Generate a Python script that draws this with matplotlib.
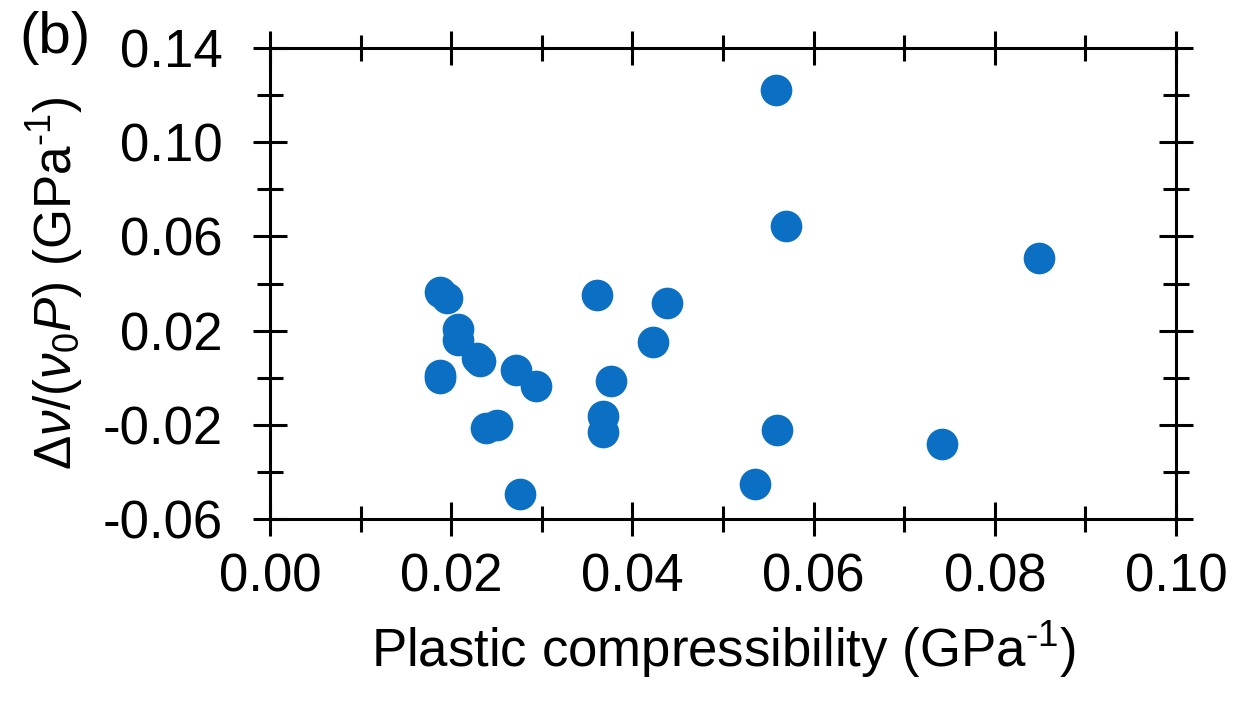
import matplotlib
matplotlib.use("Agg")
import matplotlib.pyplot as plt
from matplotlib.ticker import MultipleLocator

# plastic compressibility (GPa^-1) vs. delta nu / (nu0 P) (GPa^-1)
comp = [0.0558, 0.0569, 0.0849, 0.0188, 0.0195, 0.0361, 0.0438, 0.0207,
        0.0207, 0.0423, 0.0228, 0.0232, 0.0272, 0.0294, 0.0376, 0.0188,
        0.0188, 0.0368, 0.0368, 0.0238, 0.0250, 0.0276, 0.0535, 0.0560,
        0.0742]
dnu = [0.1222, 0.0644, 0.0508, 0.0366, 0.0340, 0.0351, 0.0317, 0.0207,
       0.0158, 0.0150, 0.0083, 0.0070, 0.0034, -0.0035, -0.0012, 0.0013,
       -0.0001, -0.0163, -0.0232, -0.0215, -0.0200, -0.0493, -0.0452,
       -0.0222, -0.0283]

plt.rcParams['font.family'] = ['Liberation Sans', 'DejaVu Sans']
plt.rcParams['mathtext.fontset'] = 'custom'
plt.rcParams['mathtext.rm'] = 'Liberation Sans'
plt.rcParams['mathtext.it'] = 'Liberation Sans:italic'

fig = plt.figure(figsize=(12.37, 7.02), dpi=100)
ax = fig.add_axes([0.2183, 0.2607, 0.7324, 0.6709])

ax.scatter(comp, dnu, s=520, color='#0b6fc4', linewidths=0, zorder=3)

ax.set_xlim(0, 0.10)
ax.set_ylim(-0.06, 0.14)
ax.xaxis.set_minor_locator(MultipleLocator(0.01))
ax.yaxis.set_minor_locator(MultipleLocator(0.02))
ax.set_xticks([0, 0.02, 0.04, 0.06, 0.08, 0.10])
ax.set_xticklabels(['0.00', '0.02', '0.04', '0.06', '0.08', '0.10'])
ax.set_yticks([-0.06, -0.02, 0.02, 0.06, 0.10, 0.14])
ax.set_yticklabels(['-0.06', '-0.02', '0.02', '0.06', '0.10', '0.14'])

for sp in ax.spines.values():
    sp.set_linewidth(2.2)

ax.tick_params(which='both', direction='inout', top=True, right=True,
               width=2.2, labelsize=38, color='black')
ax.tick_params(which='major', length=24)
ax.tick_params(which='minor', length=19)
ax.tick_params(axis='x', which='major', pad=12)
ax.tick_params(axis='y', which='major', pad=22)

ax.set_xlabel(r'Plastic compressibility (GPa$^{\text{-1}}$)', fontsize=38, labelpad=12)
ax.set_ylabel(r'$\Delta\nu/(\nu_0P)$ (GPa$^{\text{-1}}$)', fontsize=37, labelpad=12)

fig.text(0.016, 0.985, '(b)', fontsize=42, va='top', ha='left')

fig.savefig('out.png', dpi=100)
